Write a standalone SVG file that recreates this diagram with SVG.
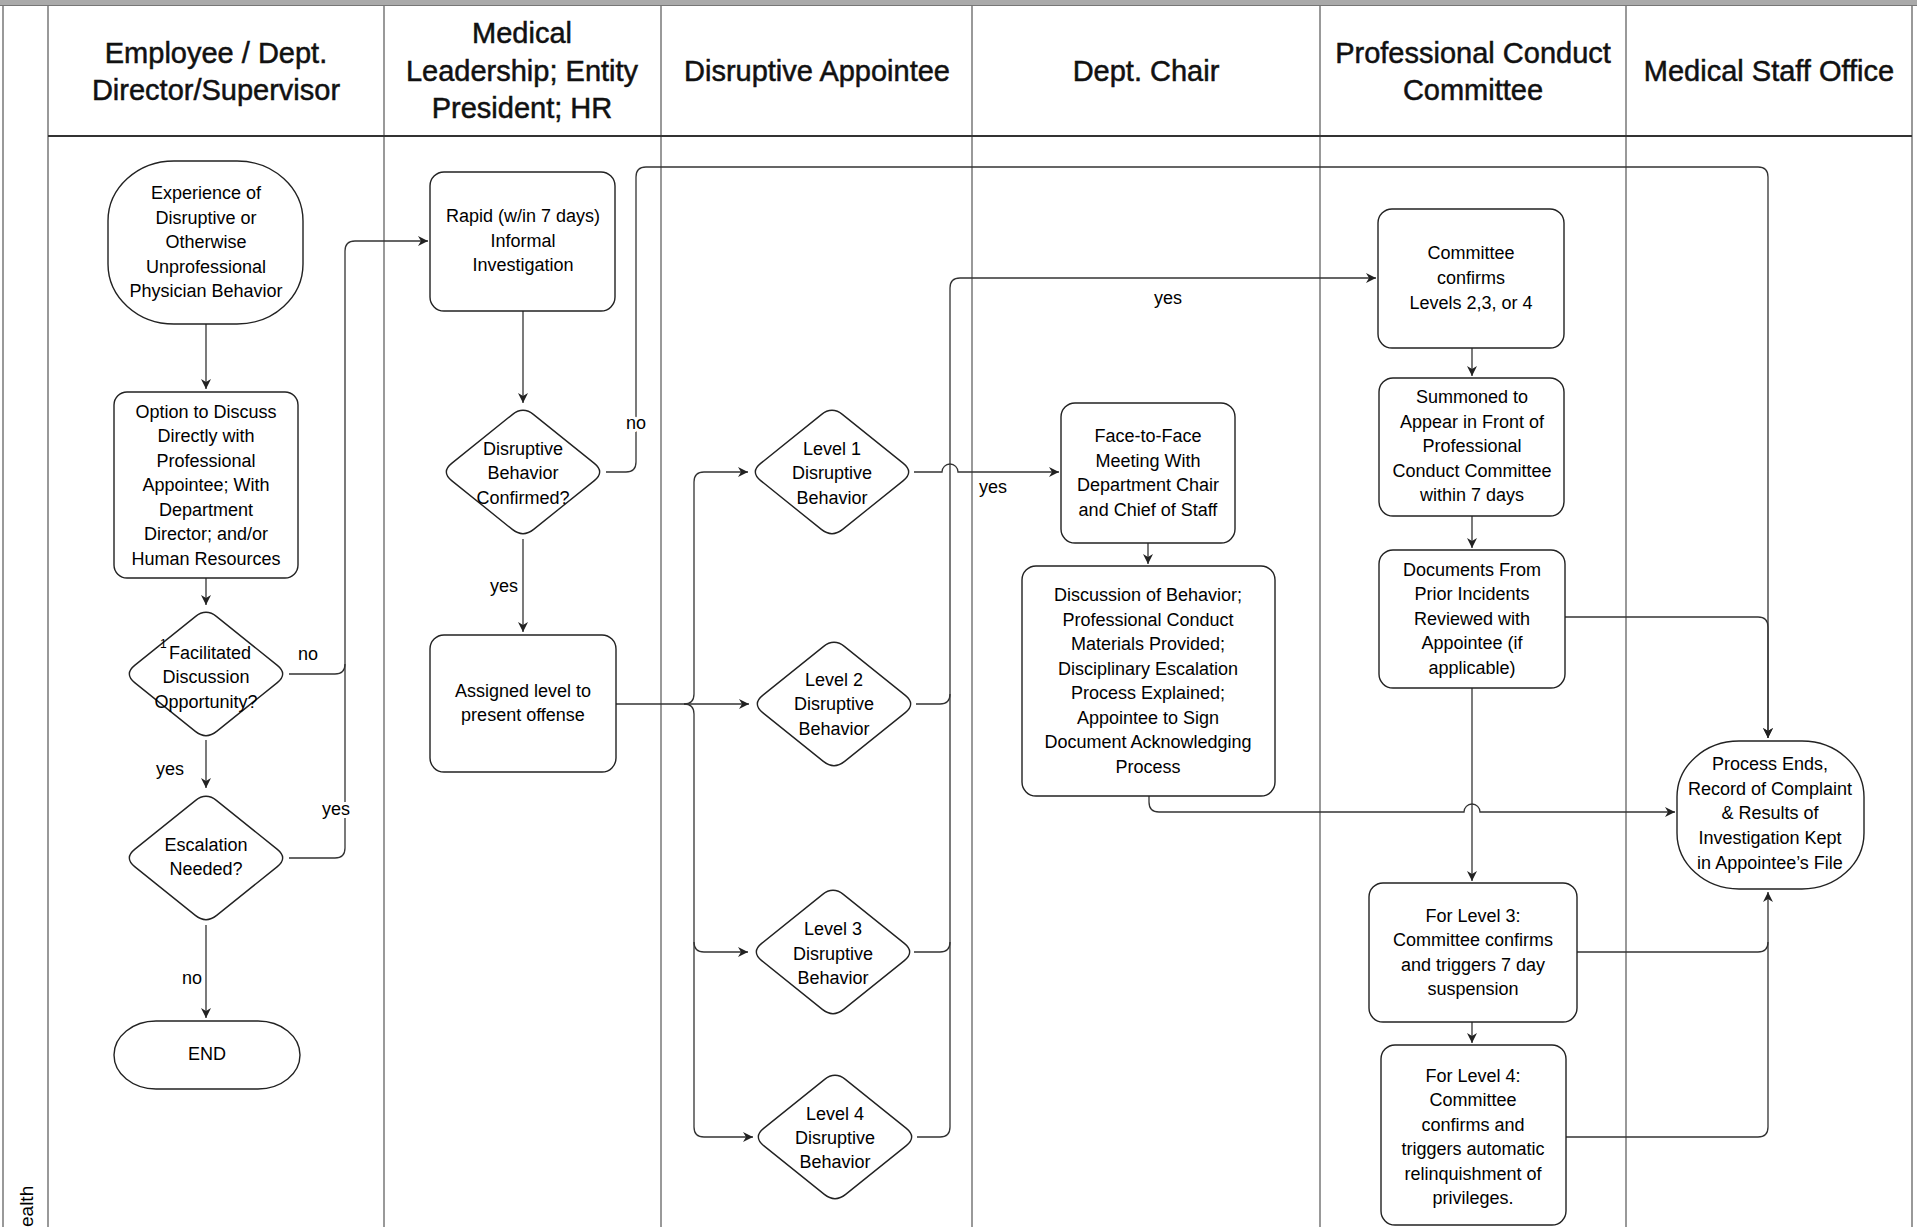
<svg xmlns="http://www.w3.org/2000/svg" width="1917" height="1227" viewBox="0 0 1917 1227">
<style>
  .lane { stroke: #555; stroke-width: 1.2; fill: none; }
  .hdrline { stroke: #333; stroke-width: 2.2; fill: none; }
  .hdr { font-family: "Liberation Sans", Arial, sans-serif; font-size: 29px; fill: #111; stroke: #111; stroke-width: 0.5px; text-anchor: middle; }
  .shape { fill: #fff; stroke: #222; stroke-width: 1.4; }
  .t { font-family: "Liberation Sans", Arial, sans-serif; font-size: 18px; fill: #000; text-anchor: middle; }
  .lbl { font-family: "Liberation Sans", Arial, sans-serif; font-size: 18px; fill: #000; text-anchor: middle; paint-order: stroke; stroke: #fff; stroke-width: 6px; stroke-linejoin: round; }
  .sup { font-family: "Liberation Sans", Arial, sans-serif; font-size: 12px; fill: #000; }
  .c { fill: none; stroke: #333; stroke-width: 1.3; }
  .ca { fill: none; stroke: #333; stroke-width: 1.3; marker-end: url(#arr); }
</style>
<defs>
  <marker id="arr" markerUnits="userSpaceOnUse" markerWidth="12" markerHeight="12" refX="10" refY="5" orient="auto">
    <path d="M0,0 L10,5 L0,10 L3,5 Z" fill="#222"/>
  </marker>
  <path id="diamond" d="M -71.34,-8.58 L -10.66,-57.42 Q 0,-66 10.66,-57.42 L 71.34,-8.58 Q 82,0 71.34,8.58 L 10.66,57.42 Q 0,66 -10.66,57.42 L -71.34,8.58 Q -82,0 -71.34,-8.58 Z"/>
</defs>
<rect width="1917" height="1227" fill="#fff"/>
<!-- swimlane frame -->
<g id="lanes">
  <rect x="0" y="0" width="1917" height="5" fill="#aaa"/>
  <line class="hdrline" x1="0" y1="5.5" x2="1917" y2="5.5" style="stroke-width:1;stroke:#777"/>
  <line class="lane" x1="3" y1="6" x2="3" y2="1227"/>
  <line class="lane" x1="48" y1="6" x2="48" y2="1227"/>
  <line class="lane" x1="384" y1="6" x2="384" y2="1227"/>
  <line class="lane" x1="661" y1="6" x2="661" y2="1227"/>
  <line class="lane" x1="972" y1="6" x2="972" y2="1227"/>
  <line class="lane" x1="1320" y1="6" x2="1320" y2="1227"/>
  <line class="lane" x1="1626" y1="6" x2="1626" y2="1227"/>
  <line class="lane" x1="1912" y1="6" x2="1912" y2="1227"/>
  <line class="hdrline" x1="48" y1="136" x2="1912" y2="136"/>
  <text class="hdr" x="216" y="63">Employee / Dept.</text>
  <text class="hdr" x="216" y="100">Director/Supervisor</text>
  <text class="hdr" x="522" y="43">Medical</text>
  <text class="hdr" x="522" y="81">Leadership; Entity</text>
  <text class="hdr" x="522" y="118">President; HR</text>
  <text class="hdr" x="817" y="81">Disruptive Appointee</text>
  <text class="hdr" x="1146" y="81">Dept. Chair</text>
  <text class="hdr" x="1473" y="63">Professional Conduct</text>
  <text class="hdr" x="1473" y="100">Committee</text>
  <text class="hdr" x="1769" y="81">Medical Staff Office</text>
  <text class="t" transform="translate(33,1227) rotate(-90)" style="text-anchor:start;font-size:19px">ealth</text>
</g>
<!-- connectors -->
<g id="connectors">
  <path class="ca" d="M 206,324 L 206,389"/>
  <path class="ca" d="M 206,578 L 206,605"/>
  <path class="ca" d="M 206,740 L 206,788"/>
  <path class="ca" d="M 206,925 L 206,1018"/>
  <path class="ca" d="M 289,674 L 335,674 Q 345,674 345,664 L 345,251 Q 345,241 355,241 L 428,241"/>
  <path class="c" d="M 289,858 L 335,858 Q 345,858 345,848 L 345,664"/>
  <path class="ca" d="M 523,311 L 523,403"/>
  <path class="ca" d="M 606,472 L 626,472 Q 636,472 636,462 L 636,177 Q 636,167 646,167 L 1758,167 Q 1768,167 1768,177 L 1768,738"/>
  <path class="ca" d="M 523,539 L 523,632"/>
  <path class="ca" d="M 616,704 L 749,704"/>
  <path class="ca" d="M 684,704 Q 694,704 694,694 L 694,482 Q 694,472 704,472 L 748,472"/>
  <path class="ca" d="M 684,704 Q 694,704 694,714 L 694,942 Q 694,952 704,952 L 748,952"/>
  <path class="ca" d="M 694,942 L 694,1127 Q 694,1137 704,1137 L 753,1137"/>
  <path class="ca" d="M 914,472 L 942,472 A 8,8 0 0 1 958,472 L 1059,472"/>
  <path class="ca" d="M 916,704 L 940,704 Q 950,704 950,694 L 950,288 Q 950,278 960,278 L 1376,278"/>
  <path class="c" d="M 914,952 L 940,952 Q 950,952 950,942 L 950,694"/>
  <path class="c" d="M 917,1137 L 940,1137 Q 950,1137 950,1127 L 950,942"/>
  <path class="ca" d="M 1148,543 L 1148,564"/>
  <path class="ca" d="M 1149,796 L 1149,802 Q 1149,812 1159,812 L 1464,812 A 8,8 0 0 1 1480,812 L 1675,812"/>
  <path class="ca" d="M 1472,348 L 1472,376"/>
  <path class="ca" d="M 1472,516 L 1472,548"/>
  <path class="ca" d="M 1472,688 L 1472,881"/>
  <path class="ca" d="M 1472,1022 L 1472,1043"/>
  <path class="ca" d="M 1565,617 L 1758,617 Q 1768,617 1768,627 L 1768,738"/>
  <path class="ca" d="M 1577,952 L 1758,952 Q 1768,952 1768,942 L 1768,892"/>
  <path class="c" d="M 1566,1137 L 1758,1137 Q 1768,1137 1768,1127 L 1768,942"/>
  <text class="lbl" x="308" y="660">no</text>
  <text class="lbl" x="170" y="775">yes</text>
  <text class="lbl" x="336" y="815">yes</text>
  <text class="lbl" x="192" y="984">no</text>
  <text class="lbl" x="636" y="429">no</text>
  <text class="lbl" x="504" y="592">yes</text>
  <text class="lbl" x="993" y="493">yes</text>
  <text class="lbl" x="1168" y="304">yes</text>
</g>
<!-- nodes -->
<g id="n-experience">
  <rect class="shape" x="108" y="161" width="195" height="163" rx="66" ry="60"/>
  <text class="t" x="206" y="199">Experience of</text>
  <text class="t" x="206" y="224">Disruptive or</text>
  <text class="t" x="206" y="248">Otherwise</text>
  <text class="t" x="206" y="273">Unprofessional</text>
  <text class="t" x="206" y="297">Physician Behavior</text>
</g>
<g id="n-option">
  <rect class="shape" x="114" y="392" width="184" height="186" rx="13"/>
  <text class="t" x="206" y="418">Option to Discuss</text>
  <text class="t" x="206" y="442">Directly with</text>
  <text class="t" x="206" y="467">Professional</text>
  <text class="t" x="206" y="491">Appointee; With</text>
  <text class="t" x="206" y="516">Department</text>
  <text class="t" x="206" y="540">Director; and/or</text>
  <text class="t" x="206" y="565">Human Resources</text>
</g>
<g id="n-facilitated">
  <use href="#diamond" class="shape" transform="translate(206,674)"/>
  <text class="sup" x="160" y="648">1</text>
  <text class="t" x="210" y="659">Facilitated</text>
  <text class="t" x="206" y="683">Discussion</text>
  <text class="t" x="206" y="708">Opportunity?</text>
</g>
<g id="n-escalation">
  <use href="#diamond" class="shape" transform="translate(206,858)"/>
  <text class="t" x="206" y="851">Escalation</text>
  <text class="t" x="206" y="875">Needed?</text>
</g>
<g id="n-end">
  <rect class="shape" x="114" y="1021" width="186" height="68" rx="42" ry="34"/>
  <text class="t" x="207" y="1060">END</text>
</g>
<g id="n-rapid">
  <rect class="shape" x="430" y="172" width="185" height="139" rx="14"/>
  <text class="t" x="523" y="222">Rapid (w/in 7 days)</text>
  <text class="t" x="523" y="247">Informal</text>
  <text class="t" x="523" y="271">Investigation</text>
</g>
<g id="n-confirmed">
  <use href="#diamond" class="shape" transform="translate(523,472)"/>
  <text class="t" x="523" y="455">Disruptive</text>
  <text class="t" x="523" y="479">Behavior</text>
  <text class="t" x="523" y="504">Confirmed?</text>
</g>
<g id="n-assigned">
  <rect class="shape" x="430" y="635" width="186" height="137" rx="14"/>
  <text class="t" x="523" y="697">Assigned level to</text>
  <text class="t" x="523" y="721">present offense</text>
</g>
<g id="n-level1">
  <use href="#diamond" class="shape" transform="translate(832,472)"/>
  <text class="t" x="832" y="455">Level 1</text>
  <text class="t" x="832" y="479">Disruptive</text>
  <text class="t" x="832" y="504">Behavior</text>
</g>
<g id="n-level2">
  <use href="#diamond" class="shape" transform="translate(834,704)"/>
  <text class="t" x="834" y="686">Level 2</text>
  <text class="t" x="834" y="710">Disruptive</text>
  <text class="t" x="834" y="735">Behavior</text>
</g>
<g id="n-level3">
  <use href="#diamond" class="shape" transform="translate(833,952)"/>
  <text class="t" x="833" y="935">Level 3</text>
  <text class="t" x="833" y="960">Disruptive</text>
  <text class="t" x="833" y="984">Behavior</text>
</g>
<g id="n-level4">
  <use href="#diamond" class="shape" transform="translate(835,1137)"/>
  <text class="t" x="835" y="1120">Level 4</text>
  <text class="t" x="835" y="1144">Disruptive</text>
  <text class="t" x="835" y="1168">Behavior</text>
</g>
<g id="n-facetoface">
  <rect class="shape" x="1061" y="403" width="174" height="140" rx="14"/>
  <text class="t" x="1148" y="442">Face-to-Face</text>
  <text class="t" x="1148" y="467">Meeting With</text>
  <text class="t" x="1148" y="491">Department Chair</text>
  <text class="t" x="1148" y="516">and Chief of Staff</text>
</g>
<g id="n-discussion">
  <rect class="shape" x="1022" y="566" width="253" height="230" rx="14"/>
  <text class="t" x="1148" y="601">Discussion of Behavior;</text>
  <text class="t" x="1148" y="626">Professional Conduct</text>
  <text class="t" x="1148" y="650">Materials Provided;</text>
  <text class="t" x="1148" y="675">Disciplinary Escalation</text>
  <text class="t" x="1148" y="699">Process Explained;</text>
  <text class="t" x="1148" y="724">Appointee to Sign</text>
  <text class="t" x="1148" y="748">Document Acknowledging</text>
  <text class="t" x="1148" y="773">Process</text>
</g>
<g id="n-committee">
  <rect class="shape" x="1378" y="209" width="186" height="139" rx="14"/>
  <text class="t" x="1471" y="259">Committee</text>
  <text class="t" x="1471" y="284">confirms</text>
  <text class="t" x="1471" y="309">Levels 2,3, or 4</text>
</g>
<g id="n-summoned">
  <rect class="shape" x="1379" y="378" width="185" height="138" rx="14"/>
  <text class="t" x="1472" y="403">Summoned to</text>
  <text class="t" x="1472" y="428">Appear in Front of</text>
  <text class="t" x="1472" y="452">Professional</text>
  <text class="t" x="1472" y="477">Conduct Committee</text>
  <text class="t" x="1472" y="501">within 7 days</text>
</g>
<g id="n-documents">
  <rect class="shape" x="1379" y="550" width="186" height="138" rx="14"/>
  <text class="t" x="1472" y="576">Documents From</text>
  <text class="t" x="1472" y="600">Prior Incidents</text>
  <text class="t" x="1472" y="625">Reviewed with</text>
  <text class="t" x="1472" y="649">Appointee (if</text>
  <text class="t" x="1472" y="674">applicable)</text>
</g>
<g id="n-level3box">
  <rect class="shape" x="1369" y="883" width="208" height="139" rx="14"/>
  <text class="t" x="1473" y="922">For Level 3:</text>
  <text class="t" x="1473" y="946">Committee confirms</text>
  <text class="t" x="1473" y="971">and triggers 7 day</text>
  <text class="t" x="1473" y="995">suspension</text>
</g>
<g id="n-level4box">
  <rect class="shape" x="1381" y="1045" width="185" height="180" rx="14"/>
  <text class="t" x="1473" y="1082">For Level 4:</text>
  <text class="t" x="1473" y="1106">Committee</text>
  <text class="t" x="1473" y="1131">confirms  and</text>
  <text class="t" x="1473" y="1155">triggers automatic</text>
  <text class="t" x="1473" y="1180">relinquishment of</text>
  <text class="t" x="1473" y="1204">privileges.</text>
</g>
<g id="n-processends">
  <rect class="shape" x="1677" y="741" width="187" height="148" rx="62" ry="56"/>
  <text class="t" x="1770" y="770">Process Ends,</text>
  <text class="t" x="1770" y="795">Record of Complaint</text>
  <text class="t" x="1770" y="819">&amp; Results of</text>
  <text class="t" x="1770" y="844">Investigation Kept</text>
  <text class="t" x="1770" y="869">in Appointee’s File</text>
</g>
</svg>
